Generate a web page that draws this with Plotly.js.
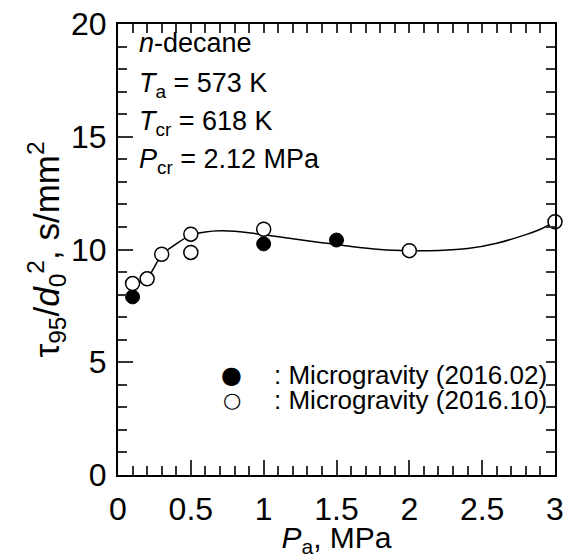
<!DOCTYPE html>
<html>
<head>
<meta charset="utf-8">
<script src="https://cdn.plot.ly/plotly-3.0.1.min.js"></script>
<style>html,body{margin:0;padding:0;background:#fff;}#chart{width:566px;height:558px;}</style>
</head>
<body>
<div id="chart"></div>
<script>
// Data
var filledX = [0.1, 1.0, 1.5];
var filledY = [7.9, 10.25, 10.42];
var openX = [0.1, 0.2, 0.3, 0.5, 0.5, 1.0, 2.0, 3.0];
var openY = [8.49, 8.7, 9.79, 10.68, 9.87, 10.9, 9.95, 11.23];
var curveX = [0.1, 0.2, 0.3, 0.4, 0.5, 0.6, 0.7, 0.8, 0.9, 1.0, 1.2, 1.4, 1.5, 1.6, 1.8, 2.0, 2.2, 2.4, 2.6, 2.8, 2.9, 3.0];
var curveY = [8.45, 8.72, 9.77, 10.25, 10.65, 10.78, 10.83, 10.81, 10.74, 10.65, 10.48, 10.3, 10.22, 10.13, 10.0, 9.95, 9.96, 10.04, 10.28, 10.66, 10.9, 11.22];
var xTickVals = [0, 0.5, 1, 1.5, 2, 2.5, 3];
var xTickText = ['0', '0.5', '1', '1.5', '2', '2.5', '3'];
var yTickVals = [0, 5, 10, 15, 20];
var yTickText = ['0', '5', '10', '15', '20'];
var legendSymbols = ['\u25CF', '\u25CB'];
var legendLabels = [': Microgravity (2016.02)', ': Microgravity (2016.10)'];
var infoLines = ['<i>n</i>-decane', '<i>T</i><sub>a</sub> = 573 K', '<i>T</i><sub>cr</sub> = 618 K', '<i>P</i><sub>cr</sub> = 2.12 MPa'];

var FONT = 'Liberation Sans, Arial, sans-serif';

var traces = [
  {x: curveX, y: curveY, mode: 'lines', line: {color: '#000', width: 1.5, shape: 'spline', smoothing: 0.6}, showlegend: false, hoverinfo: 'skip'},
  {x: filledX, y: filledY, mode: 'markers', marker: {symbol: 'circle', size: 14, color: '#000', line: {color: '#000', width: 1}}, cliponaxis: false, name: 'Microgravity (2016.02)', showlegend: false},
  {x: openX, y: openY, mode: 'markers', marker: {symbol: 'circle', size: 14, color: '#fff', line: {color: '#000', width: 1.5}}, cliponaxis: false, name: 'Microgravity (2016.10)', showlegend: false},
  {x: [], y: [], xaxis: 'x2', yaxis: 'y2', type: 'scatter', mode: 'lines', showlegend: false, hoverinfo: 'skip'}
];

function px2x(p) { return (p - 117.5) / 438; }
function px2y(p) { return (475 - p) / 451.5; }

var annotations = [];
var infoBottom = [60, 104, 142, 180];
for (var i = 0; i < infoLines.length; i++) {
  annotations.push({xref: 'paper', yref: 'paper', x: px2x(137), y: px2y(infoBottom[i]), xanchor: 'left', yanchor: 'bottom', text: infoLines[i], showarrow: false, font: {family: FONT, size: 27, color: '#000'}, align: 'left'});
}
var legY = [375, 399.5];
for (var j = 0; j < legendLabels.length; j++) {
  annotations.push({xref: 'paper', yref: 'paper', x: px2x(231.7), y: px2y(legY[j]), xanchor: 'center', yanchor: 'middle', text: legendSymbols[j], showarrow: false, font: {family: 'DejaVu Sans', size: j === 0 ? 24 : 21, color: '#000'}});
  annotations.push({xref: 'paper', yref: 'paper', x: px2x(272), y: px2y(legY[j]), xanchor: 'left', yanchor: 'middle', text: legendLabels[j], showarrow: false, font: {family: FONT, size: 26, color: '#000'}});
}

var noGrid = {showgrid: true, gridcolor: 'rgba(0,0,0,0)', zeroline: false};

var layout = {
  width: 566, height: 558,
  margin: {l: 117.5, r: 10.5, t: 23.5, b: 83},
  paper_bgcolor: '#fff', plot_bgcolor: '#fff',
  showlegend: false,
  font: {family: FONT, color: '#000'},
  xaxis: Object.assign({
    range: [0, 3],
    showline: true, linecolor: '#000', linewidth: 2,
    ticks: 'inside', ticklen: 15, tickwidth: 1.5, tickcolor: '#333',
    tickvals: xTickVals, ticktext: xTickText,
    tickfont: {family: FONT, size: 32, color: '#000'},
    ticklabelstandoff: 5,
    minor: {dtick: 0.1, ticks: 'inside', ticklen: 9, tickwidth: 1.5, tickcolor: '#333'},
    title: {text: '<i>P</i><sub>a</sub>, MPa', font: {family: FONT, size: 30, color: '#000'}, standoff: 2}
  }, noGrid),
  yaxis: Object.assign({
    range: [0, 20],
    showline: true, linecolor: '#000', linewidth: 2,
    ticks: 'inside', ticklen: 15, tickwidth: 1.5, tickcolor: '#333',
    tickvals: yTickVals, ticktext: yTickText,
    tickfont: {family: FONT, size: 32, color: '#000'},
    ticklabelstandoff: 3,
    minor: {dtick: 1, ticks: 'inside', ticklen: 9, tickwidth: 1.5, tickcolor: '#333'},
    title: {text: '\u03C4<sub>95</sub>/<i>d</i><sub>0</sub><sup>2</sup>, s/mm<sup>2</sup>', font: {family: FONT, size: 35, color: '#000'}, standoff: 1}
  }, noGrid),
  xaxis2: Object.assign({
    overlaying: 'x', side: 'top', anchor: 'y2', range: [0, 3],
    showline: true, linecolor: '#000', linewidth: 2,
    ticks: 'inside', tick0: 0, dtick: 0.1, ticklen: 9, tickwidth: 1.5, tickcolor: '#333', showticklabels: false
  }, noGrid),
  yaxis2: Object.assign({
    overlaying: 'y', side: 'right', anchor: 'x2', range: [0, 20],
    showline: true, linecolor: '#000', linewidth: 2,
    ticks: 'inside', tick0: 0, dtick: 1, ticklen: 9, tickwidth: 1.5, tickcolor: '#333', showticklabels: false
  }, noGrid),
  annotations: annotations
};

Plotly.newPlot('chart', traces, layout, {displayModeBar: false});
</script>
</body>
</html>
